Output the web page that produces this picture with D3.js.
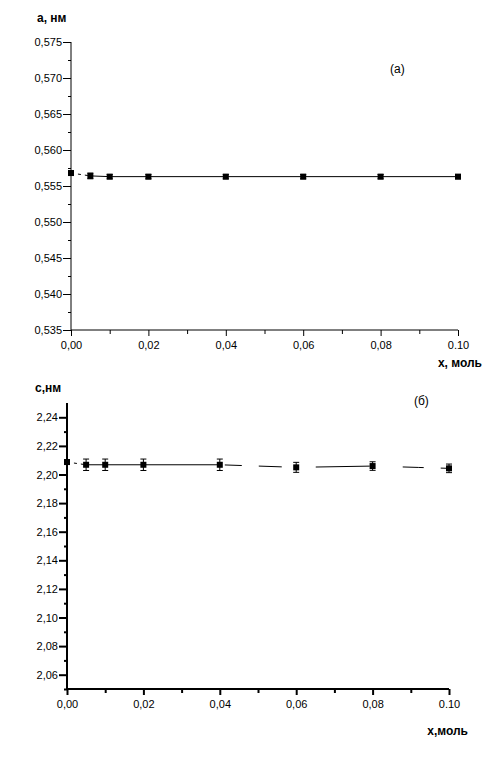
<!DOCTYPE html>
<html><head><meta charset="utf-8">
<script src="https://cdn.jsdelivr.net/npm/d3@7"></script>
<style>body{margin:0;background:#fff}svg{display:block}text{font-family:"Liberation Sans",Arial,sans-serif}</style>
</head><body><svg id="c" width="496" height="775"></svg>
<script>
const xValues = [0, 0.005, 0.01, 0.02, 0.04, 0.06, 0.08, 0.10];
const aValues = [0.5568, 0.5564, 0.5563, 0.5563, 0.5563, 0.5563, 0.5563, 0.5563];
const aErrors = [0.0003, 0.0004, 0.0003, 0.0003, 0.0003, 0.0003, 0.0003, 0.0003];
const cValues = [2.2087, 2.2068, 2.2068, 2.2068, 2.2068, 2.2050, 2.2059, 2.2043];
const cErrors = [0.0015, 0.0040, 0.0040, 0.0040, 0.0040, 0.0035, 0.0030, 0.0030];
const xTicks = [0, 0.02, 0.04, 0.06, 0.08, 0.10];
const xTickLabels = ["0,00", "0,02", "0,04", "0,06", "0,08", "0.10"];
const aTicks = [0.535, 0.540, 0.545, 0.550, 0.555, 0.560, 0.565, 0.570, 0.575];
const cTicks = [2.06, 2.08, 2.10, 2.12, 2.14, 2.16, 2.18, 2.20, 2.22, 2.24];

const svg = d3.select("#c");

function panel(o) {
  const g = svg.append("g");
  const x = d3.scaleLinear().domain([0, 0.10]).range([o.x0, o.x1]);
  const y = d3.scaleLinear().domain(o.yDomain).range([o.y0, o.y1]);
  // axes
  const xa = d3.axisBottom(x).tickValues(xTicks).tickSize(6).tickFormat((d, i) => xTickLabels[i]);
  const xm = d3.axisBottom(x).tickValues([0.01, 0.03, 0.05, 0.07, 0.09]).tickSize(4).tickFormat("");
  const ya = d3.axisLeft(y).tickValues(o.yTicks).tickSize(8).tickFormat(o.fmt);
  const ym = d3.axisLeft(y).tickValues(o.yMinor).tickSize(3).tickFormat("");
  [xa, xm].forEach(ax => {
    const gg = g.append("g").attr("transform", `translate(0,${o.y0})`).call(ax);
    gg.select(".domain").attr("stroke-width", o.sw);
    gg.selectAll("line").attr("stroke-width", o.sw);
    gg.selectAll("text").attr("font-size", 11).attr("dy", "0.9em").attr("fill", "#000");
  });
  [ya, ym].forEach(ax => {
    const gg = g.append("g").attr("transform", `translate(${o.x0},0)`).call(ax);
    gg.select(".domain").attr("stroke-width", o.sw);
    gg.selectAll("line").attr("stroke-width", o.sw);
    gg.selectAll("text").attr("font-size", 11).attr("x", -9).attr("fill", "#000");
  });
  g.selectAll(".domain").attr("d", null);
  g.append("line").attr("x1", o.x0).attr("x2", o.x1).attr("y1", o.y0).attr("y2", o.y0).attr("stroke", "#000").attr("stroke-width", o.sw);
  g.append("line").attr("x1", o.x0).attr("x2", o.x0).attr("y1", o.y0).attr("y2", o.y1).attr("stroke", "#000").attr("stroke-width", o.sw);

  const pts = xValues.map((d, i) => ({x: d, y: o.vals[i], e: o.errs[i]}));
  const line = d3.line().x(d => x(d.x)).y(d => y(d.y));
  g.append("path").attr("d", line(pts.slice(0, 2))).attr("fill", "none").attr("stroke", "#000").attr("stroke-dasharray", "3,4");
  g.append("path").attr("d", line(pts.slice(1, o.solidTo + 1))).attr("fill", "none").attr("stroke", "#000");
  if (o.solidTo < pts.length - 1) {
    g.append("path").attr("d", line(pts.slice(o.solidTo))).attr("fill", "none").attr("stroke", "#000").attr("stroke-dasharray", o.dash);
  }
  // error bars
  const eb = g.selectAll(".eb").data(pts).enter().append("g");
  eb.append("line").attr("x1", d => x(d.x)).attr("x2", d => x(d.x))
    .attr("y1", d => y(d.y - d.e)).attr("y2", d => y(d.y + d.e)).attr("stroke", "#000");
  eb.append("line").attr("x1", d => x(d.x) - 3).attr("x2", d => x(d.x) + 3)
    .attr("y1", d => y(d.y - d.e)).attr("y2", d => y(d.y - d.e)).attr("stroke", "#000");
  eb.append("line").attr("x1", d => x(d.x) - 3).attr("x2", d => x(d.x) + 3)
    .attr("y1", d => y(d.y + d.e)).attr("y2", d => y(d.y + d.e)).attr("stroke", "#000");
  g.selectAll(".pt").data(pts).enter().append("rect")
    .attr("x", d => x(d.x) - 3).attr("y", d => y(d.y) - 3).attr("width", 6).attr("height", 6).attr("fill", "#000");
  // labels
  g.append("text").attr("x", o.ylab[0]).attr("y", o.ylab[1]).attr("font-size", 12).attr("font-weight", "bold").text(o.ylabel);
  g.append("text").attr("x", o.xlab[0]).attr("y", o.xlab[1]).attr("font-size", 12).attr("font-weight", "bold").attr("text-anchor", "end").text(o.xlabel);
  g.append("text").attr("x", o.tag[0]).attr("y", o.tag[1]).attr("font-size", 12).text(o.tagText);
}

const f3 = d => d3.format(".3f")(d).replace(".", ",");
const f2 = d => d3.format(".2f")(d).replace(".", ",");

panel({
  x0: 71, x1: 458, y0: 330, y1: 42, yDomain: [0.535, 0.575], sw: 1,
  yTicks: aTicks, yMinor: d3.range(8).map(i => 0.5375 + i * 0.005), fmt: f3,
  vals: aValues, errs: aErrors, solidTo: 7, dash: null,
  ylabel: "а, нм", ylab: [37, 22], xlabel: "x, моль", xlab: [482, 367], tagText: "(a)", tag: [390, 73]
});
panel({
  x0: 67, x1: 449, y0: 689, y1: 403, yDomain: [2.05, 2.25], sw: 2,
  yTicks: cTicks, yMinor: d3.range(10).map(i => 2.05 + i * 0.02), fmt: f2,
  vals: cValues, errs: cErrors, solidTo: 4, dash: "0,5,17,17,23,34,54,33,16",
  ylabel: "c,нм", ylab: [35, 392], xlabel: "x,моль", xlab: [468, 735], tagText: "(б)", tag: [414, 405]
});
</script></body></html>
